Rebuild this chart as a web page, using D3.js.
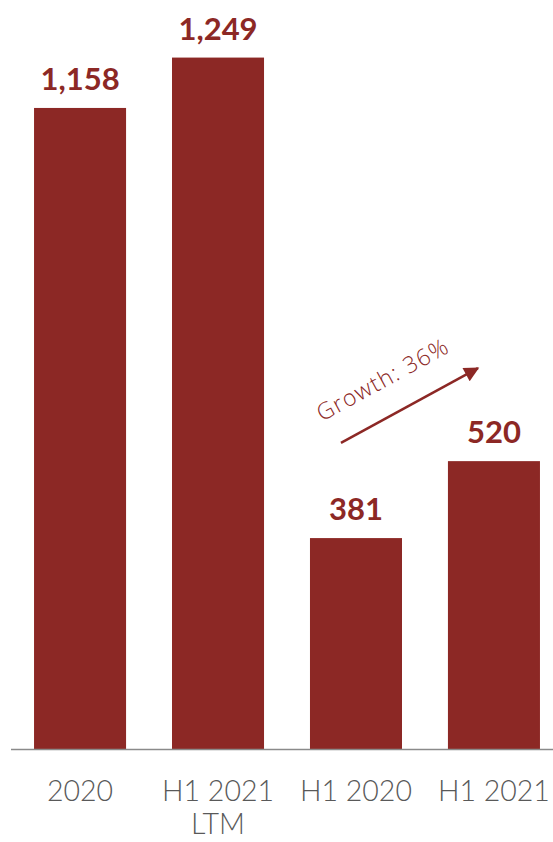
<!DOCTYPE html>
<html>
<head>
<meta charset="utf-8">
<script src="https://cdn.jsdelivr.net/npm/d3@7/dist/d3.min.js"></script>
<style>
  html, body { margin: 0; padding: 0; background: #ffffff; }
  svg { display: block; }
</style>
</head>
<body>
<svg id="chart" width="553" height="842"></svg>
<script>
// Chart data
const categories = ["2020", "H1 2021\nLTM", "H1 2020", "H1 2021"];
const values = [1158, 1249, 381, 520];
const valueLabels = ["1,158", "1,249", "381", "520"];

// Growth annotation between the two half-year bars
const growthText = "Growth: 36%";
const arrowFrom = { cat: "H1 2020", value: 553 };
const arrowTo = { cat: "H1 2021", value: 688 };

const barColor = "#8C2825";
const axisText = "#595959";

const W = 553, H = 842;
const svg = d3.select("#chart");

const x = d3.scaleBand()
  .domain(categories)
  .range([11, 563])
  .paddingInner(0.333)
  .paddingOuter(0.167);

const y = d3.scaleLinear()
  .domain([0, 1353])
  .range([749, 0]);

// Bars
svg.append("g")
  .selectAll("rect")
  .data(values)
  .join("rect")
  .attr("x", (d, i) => x(categories[i]))
  .attr("y", d => y(d))
  .attr("width", x.bandwidth())
  .attr("height", d => y(0) - y(d))
  .attr("fill", barColor);

// Value labels
svg.append("g")
  .selectAll("text")
  .data(values)
  .join("text")
  .attr("x", (d, i) => x(categories[i]) + x.bandwidth() / 2)
  .attr("y", d => y(d) - 18)
  .attr("text-anchor", "middle")
  .attr("font-family", "Lato, sans-serif")
  .attr("font-weight", 700)
  .attr("font-size", 31)
  .attr("fill", barColor)
  .text((d, i) => valueLabels[i]);

// Baseline
svg.append("line")
  .attr("x1", 11).attr("x2", W)
  .attr("y1", y(0) + 0.5).attr("y2", y(0) + 0.5)
  .attr("stroke", "#8a8a8a")
  .attr("stroke-width", 1.5);

// Category labels (multi-line)
const cat = svg.append("g")
  .selectAll("text")
  .data(categories)
  .join("text")
  .attr("x", d => x(d) + x.bandwidth() / 2)
  .attr("y", 801)
  .attr("text-anchor", "middle")
  .attr("font-family", "Lato, sans-serif")
  .attr("font-weight", 300)
  .attr("font-size", 28.5)
  .attr("fill", axisText);
cat.each(function (d) {
  const t = d3.select(this);
  d.split("\n").forEach((line, i) => {
    t.append("tspan")
      .attr("x", x(d) + x.bandwidth() / 2)
      .attr("dy", i === 0 ? 0 : 33)
      .text(line);
  });
});

// Growth arrow
const defs = svg.append("defs");
defs.append("marker")
  .attr("id", "arrowHead")
  .attr("viewBox", "0 0 10 10")
  .attr("refX", 9)
  .attr("refY", 5)
  .attr("markerWidth", 7)
  .attr("markerHeight", 6)
  .attr("markerUnits", "strokeWidth")
  .attr("orient", "auto")
  .append("path")
  .attr("d", "M0,0 L10,5 L0,10 Z")
  .attr("fill", barColor);

const ax1 = x(arrowFrom.cat) + 31, ay1 = y(arrowFrom.value);
const ax2 = x(arrowTo.cat) + 30, ay2 = y(arrowTo.value);
svg.append("line")
  .attr("x1", ax1).attr("y1", ay1)
  .attr("x2", ax2).attr("y2", ay2)
  .attr("stroke", barColor)
  .attr("stroke-width", 2.5)
  .attr("marker-end", "url(#arrowHead)");

const angle = Math.atan2(ay2 - ay1, ax2 - ax1) * 180 / Math.PI;
const tx = x(arrowFrom.cat) + 12, ty = y(591);
svg.append("text")
  .attr("transform", `translate(${tx},${ty}) rotate(${angle})`)
  .attr("font-family", "'Open Sans', sans-serif")
  .attr("font-weight", 300)
  .attr("font-size", 23)
  .attr("textLength", 146)
  .attr("lengthAdjust", "spacing")
  .attr("fill", barColor)
  .text(growthText);
</script>
</body>
</html>
